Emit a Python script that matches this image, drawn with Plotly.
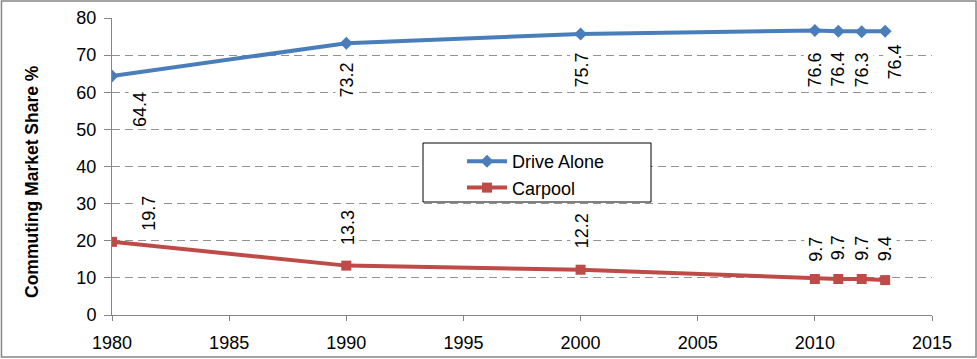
import plotly.graph_objects as go

years = [1980, 1990, 2000, 2010, 2011, 2012, 2013]
drive_alone = [64.4, 73.2, 75.7, 76.6, 76.4, 76.3, 76.4]
carpool = [19.7, 13.3, 12.2, 9.7, 9.7, 9.7, 9.4]
y_title = "Commuting Market Share %"

# label placement offsets in pixels (xshift, yshift) – layout only
drive_off = [(28, -34), (1, -37), (1, -36), (0, -39), (0, -38), (0, -38), (10, -31)]
car_off = [(37, 28), (1, 38), (1, 39), (1, 30), (0, 31), (0, 31), (0, 31)]

BLUE = "#4A7EBB"
RED = "#BE4B48"
GRAY = "#868686"
FONT = "Liberation Sans"

fig = go.Figure()
fig.add_trace(go.Scatter(x=years, y=drive_alone, name="Drive Alone", mode="lines+markers",
                         line=dict(color=BLUE, width=4),
                         marker=dict(symbol="diamond", size=10, color=BLUE)))
fig.add_trace(go.Scatter(x=years, y=carpool, name="Carpool", mode="lines+markers",
                         line=dict(color=RED, width=4),
                         marker=dict(symbol="square", size=10, color=RED)))

annotations = []
for series, offs in ((drive_alone, drive_off), (carpool, car_off)):
    for x, v, (dx, dy) in zip(years, series, offs):
        annotations.append(dict(x=x, y=v, xref="x", yref="y", text=f"{v:.1f}",
                                showarrow=False, textangle=-90, xshift=dx, yshift=dy,
                                xanchor="center", yanchor="middle",
                                font=dict(family=FONT, size=18, color="black"),
                                bgcolor="white", borderpad=1))
annotations.append(dict(x=0, y=(315 - 182) / 297, xref="paper", yref="paper", text=f"<b>{y_title}</b>",
                        showarrow=False, textangle=-90, xshift=-80,
                        xanchor="center", yanchor="middle",
                        font=dict(family=FONT, size=17.5, color="black")))

fig.update_layout(
    width=977, height=359,
    margin=dict(l=112, r=45, t=18, b=44, autoexpand=False),
    paper_bgcolor="white", plot_bgcolor="white",
    font=dict(family=FONT, size=18, color="black"),
    showlegend=True,
    legend=dict(x=(462 - 112) / 820, y=(315 - 143) / 297, xanchor="left", yanchor="top",
                bgcolor="rgba(0,0,0,0)", borderwidth=0,
                font=dict(family=FONT, size=18), tracegroupgap=0, itemwidth=40),
    annotations=annotations,
    shapes=[
        dict(type="rect", xref="paper", yref="paper", x0=-0.1348, x1=1.0537, y0=-0.1414, y1=1.0572,
             line=dict(color=GRAY, width=1.5), fillcolor="rgba(0,0,0,0)", layer="below"),
        dict(type="rect", xref="paper", yref="paper",
             x0=(423 - 112) / 820, x1=(651 - 112) / 820,
             y0=(315 - 202) / 297, y1=(315 - 143) / 297,
             line=dict(color="black", width=1), fillcolor="white", layer="above"),
    ],
)
fig.update_xaxes(range=[1980, 2015], dtick=5, tick0=1980, showgrid=False,
                 showline=True, linecolor=GRAY, linewidth=1,
                 ticks="outside", ticklen=5, tickcolor=GRAY, tickfont=dict(size=18),
                 ticklabelstandoff=6, zeroline=False)
fig.update_yaxes(range=[0, 80], dtick=10, showgrid=True, gridcolor="#939393", gridwidth=1,
                 griddash="8px,5px", showline=True, linecolor=GRAY, linewidth=1,
                 ticks="outside", ticklen=7, tickcolor=GRAY, tickfont=dict(size=18),
                 ticklabelstandoff=4, zeroline=False)

fig.write_html("out.html", config={"displayModeBar": False},
               post_script="document.body.style.margin='0';document.body.style.overflow='hidden';")
